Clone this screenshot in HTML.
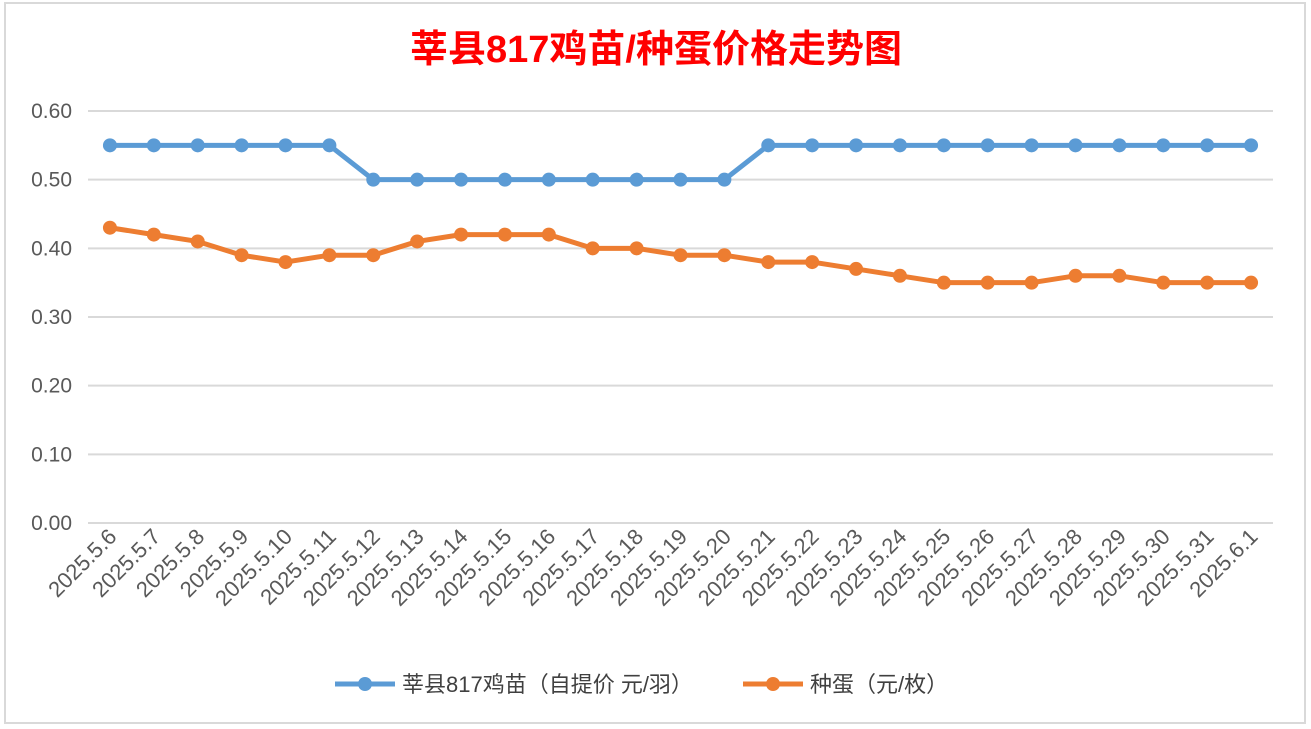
<!DOCTYPE html>
<html><head><meta charset="utf-8"><style>
html,body{margin:0;padding:0;background:#fff;}
svg{display:block;font-family:"Liberation Sans","Noto Sans CJK SC",sans-serif;}
</style></head><body>
<svg id="c" width="1311" height="729">
<rect x="5" y="3" width="1300" height="720" fill="#fff" stroke="#d9d9d9" stroke-width="2"/>
<text x="656" y="62" text-anchor="middle" font-size="38" font-weight="bold" fill="#ff0000">莘县817鸡苗/种蛋价格走势图</text>
<g id="grid"></g><g id="xl"></g><g id="series"></g>
<g>
<g><line x1="335" y1="684" x2="395" y2="684" stroke="#5b9bd5" stroke-width="5"/><circle cx="365" cy="684" r="7" fill="#5b9bd5"/><text x="402" y="692" font-size="22" fill="#404040">莘县817鸡苗（自提价 元/羽）</text></g>
<g><line x1="743" y1="684" x2="803" y2="684" stroke="#ed7d31" stroke-width="5"/><circle cx="773" cy="684" r="7" fill="#ed7d31"/><text x="810" y="692" font-size="22" fill="#404040">种蛋（元/枚）</text></g>
</g>
</svg>
<script>
const categories=["2025.5.6","2025.5.7","2025.5.8","2025.5.9","2025.5.10","2025.5.11","2025.5.12","2025.5.13","2025.5.14","2025.5.15","2025.5.16","2025.5.17","2025.5.18","2025.5.19","2025.5.20","2025.5.21","2025.5.22","2025.5.23","2025.5.24","2025.5.25","2025.5.26","2025.5.27","2025.5.28","2025.5.29","2025.5.30","2025.5.31","2025.6.1"];
const chickPrices=[0.55,0.55,0.55,0.55,0.55,0.55,0.50,0.50,0.50,0.50,0.50,0.50,0.50,0.50,0.50,0.55,0.55,0.55,0.55,0.55,0.55,0.55,0.55,0.55,0.55,0.55,0.55];
const eggPrices=[0.43,0.42,0.41,0.39,0.38,0.39,0.39,0.41,0.42,0.42,0.42,0.40,0.40,0.39,0.39,0.38,0.38,0.37,0.36,0.35,0.35,0.35,0.36,0.36,0.35,0.35,0.35];
const yTicks=[0,0.1,0.2,0.3,0.4,0.5,0.6];
const NS="http://www.w3.org/2000/svg";
const x0=88,x1=1273,yb=523,yt=111;
const step=(x1-x0)/categories.length;
const xs=i=>x0+step*(i+0.5);
const ys=v=>yb-(v/0.6)*(yb-yt);
function mk(t,a,p){const e=document.createElementNS(NS,t);for(const k in a)e.setAttribute(k,a[k]);p.appendChild(e);return e;}
const grid=document.getElementById('grid');
yTicks.forEach(v=>{
 const l=mk('line',{x1:x0,x2:x1,y1:ys(v),y2:ys(v),stroke:'#d9d9d9','stroke-width':2},grid);
 
 
 const t=mk('text',{x:72,y:ys(v)+7,'text-anchor':'end','font-size':21,fill:'#595959'},grid);
 t.textContent=v.toFixed(2);
 
 
});
const xl=document.getElementById('xl');
categories.forEach((c,i)=>{
 const t=mk('text',{x:xs(i)+8,y:538,'text-anchor':'end','font-size':22,fill:'#595959',transform:`rotate(-45 ${xs(i)+8} 538)`},xl);
 t.textContent=c;
 
 
});
const sg=document.getElementById('series');
function series(vals,color,name){
 const g=mk('g',{},sg);
 
 
 mk('polyline',{points:vals.map((v,i)=>xs(i)+','+ys(v)).join(' '),fill:'none',stroke:color,'stroke-width':5,'stroke-linejoin':'round'},g);
 vals.forEach((v,i)=>{
  const c=mk('circle',{cx:xs(i),cy:ys(v),r:7,fill:color},g);
  
  
 });
}
series(chickPrices,'#5b9bd5','chick-price-line');
series(eggPrices,'#ed7d31','egg-price-line');
</script>
</body></html>
